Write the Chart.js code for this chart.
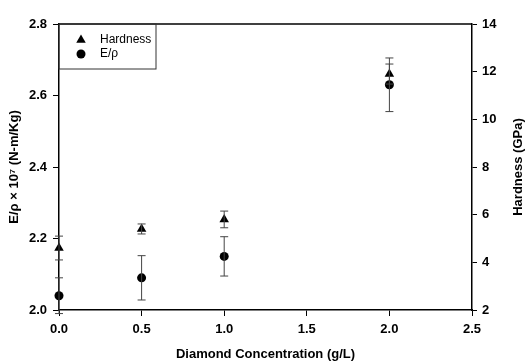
<!DOCTYPE html>
<html>
<head>
<meta charset="utf-8">
<script src="https://cdn.jsdelivr.net/npm/chart.js@4"></script>
<style>
  html, body { margin: 0; padding: 0; background: #fff; }
  #wrap { width: 528px; height: 362px; position: relative; }
</style>
</head>
<body>
<div id="wrap"><canvas id="chart" width="528" height="362"></canvas></div>
<script>
// values
let concentration = [0, 0.5, 1.0, 2.0]
let hardness = [4.6, 5.4, 5.8, 11.9]
let hardnessErr = [0.5, 0.21, 0.35, 0.42]
let eRho = [2.04, 2.09, 2.15, 2.63]
let eRhoErr = [0.05, 0.062, 0.055, 0.075]

const FONT = "'Liberation Sans', Arial, sans-serif"
const rightTitle = 'Hardness (GPa)'

// error bars + top frame line + boxed legend inside the plot + right title
const extras = {
  id: 'extras',
  afterDatasetsDraw(chart) {
    const c = chart.ctx
    const area = chart.chartArea
    const x = chart.scales.x
    c.save()
    c.strokeStyle = '#444'
    c.lineWidth = 1
    const bars = (vals, errs, scale) => {
      vals.forEach((v, i) => {
        const px = x.getPixelForValue(concentration[i])
        const top = scale.getPixelForValue(v + errs[i])
        const bot = scale.getPixelForValue(v - errs[i])
        c.beginPath()
        c.moveTo(px, top); c.lineTo(px, bot)
        c.moveTo(px - 4, top); c.lineTo(px + 4, top)
        c.moveTo(px - 4, bot); c.lineTo(px + 4, bot)
        c.stroke()
      })
    }
    bars(hardness, hardnessErr, chart.scales.y2)
    bars(eRho, eRhoErr, chart.scales.y)

    // top frame
    c.strokeStyle = '#000'
    c.lineWidth = 1.5
    c.beginPath()
    c.moveTo(area.left, area.top); c.lineTo(area.right, area.top)
    c.stroke()

    // legend box
    c.lineWidth = 1
    c.strokeStyle = '#333'
    c.strokeRect(area.left, area.top, 97, 45)
    c.font = '12px ' + FONT
    c.fillStyle = '#000'
    c.textBaseline = 'middle'
    chart.data.datasets.forEach((ds, i) => {
      const ly = area.top + 16 + i * 14
      Chart.helpers.drawPoint(c, { pointStyle: ds.pointStyle, radius: ds.pointRadius, rotation: 0, borderWidth: 0 }, area.left + 22, ly)
      c.fillText(ds.label, area.left + 41, ly)
    })

    // right axis title reads bottom to top, like the left one
    c.translate(518, (area.top + area.bottom) / 2)
    c.rotate(-Math.PI / 2)
    c.font = 'bold 13px ' + FONT
    c.textAlign = 'center'
    c.fillText(rightTitle, 0, 0)
    c.restore()
  }
}

const ctx = document.getElementById('chart')
let chart = new Chart(ctx, {
  type: 'scatter',
  data: {
    datasets: [
      {
        label: 'Hardness',
        data: concentration.map((c, i) => ({ x: c, y: hardness[i] })),
        yAxisID: 'y2',
        pointStyle: 'triangle',
        pointRadius: 5.5,
        backgroundColor: '#000',
        borderColor: '#000',
        borderWidth: 0,
        clip: false
      },
      {
        label: 'E/ρ',
        data: concentration.map((c, i) => ({ x: c, y: eRho[i] })),
        yAxisID: 'y',
        pointStyle: 'circle',
        pointRadius: 4.5,
        backgroundColor: '#000',
        borderColor: '#000',
        borderWidth: 0,
        clip: false
      }
    ]
  },
  options: {
    responsive: false,
    animation: false,
    layout: { padding: { top: 24, left: 0, right: 0, bottom: 0 } },
    plugins: { legend: { display: false }, tooltip: { enabled: false } },
    scales: {
      x: {
        type: 'linear',
        min: 0, max: 2.5,
        afterFit: s => { s.height = 52 },
        border: { color: '#000', width: 1.5 },
        grid: { display: true, drawOnChartArea: false, color: '#000', tickLength: 6, tickWidth: 1 },
        ticks: { stepSize: 0.5, color: '#000', padding: 6, maxRotation: 0,
                 font: { family: FONT, size: 13, weight: 'bold' },
                 callback: v => v.toFixed(1) },
        title: { display: true, text: 'Diamond Concentration (g/L)', color: '#000',
                 padding: { top: 0, bottom: 0 },
                 font: { family: FONT, size: 13, weight: 'bold' } }
      },
      y: {
        position: 'left',
        min: 2.0, max: 2.8,
        afterFit: s => { s.width = 59 },
        border: { color: '#000', width: 1.5 },
        grid: { display: true, drawOnChartArea: false, color: '#000', tickLength: 6, tickWidth: 1 },
        ticks: { stepSize: 0.2, color: '#000', padding: 6,
                 font: { family: FONT, size: 13, weight: 'bold' },
                 callback: v => v.toFixed(1) },
        title: { display: true, text: 'E/ρ × 10⁷ (N-m/Kg)', color: '#000',
                 padding: { top: 7, bottom: 0 },
                 font: { family: FONT, size: 13, weight: 'bold' } }
      },
      y2: {
        position: 'right',
        min: 2, max: 14,
        afterFit: s => { s.width = 56 },
        border: { color: '#000', width: 1.5 },
        grid: { display: true, drawOnChartArea: false, color: '#000', tickLength: 5, tickWidth: 1 },
        ticks: { stepSize: 2, color: '#000', padding: 5,
                 font: { family: FONT, size: 13, weight: 'bold' } },
        title: { display: false }
      }
    }
  },
  plugins: [extras]
});
</script>
</body>
</html>
